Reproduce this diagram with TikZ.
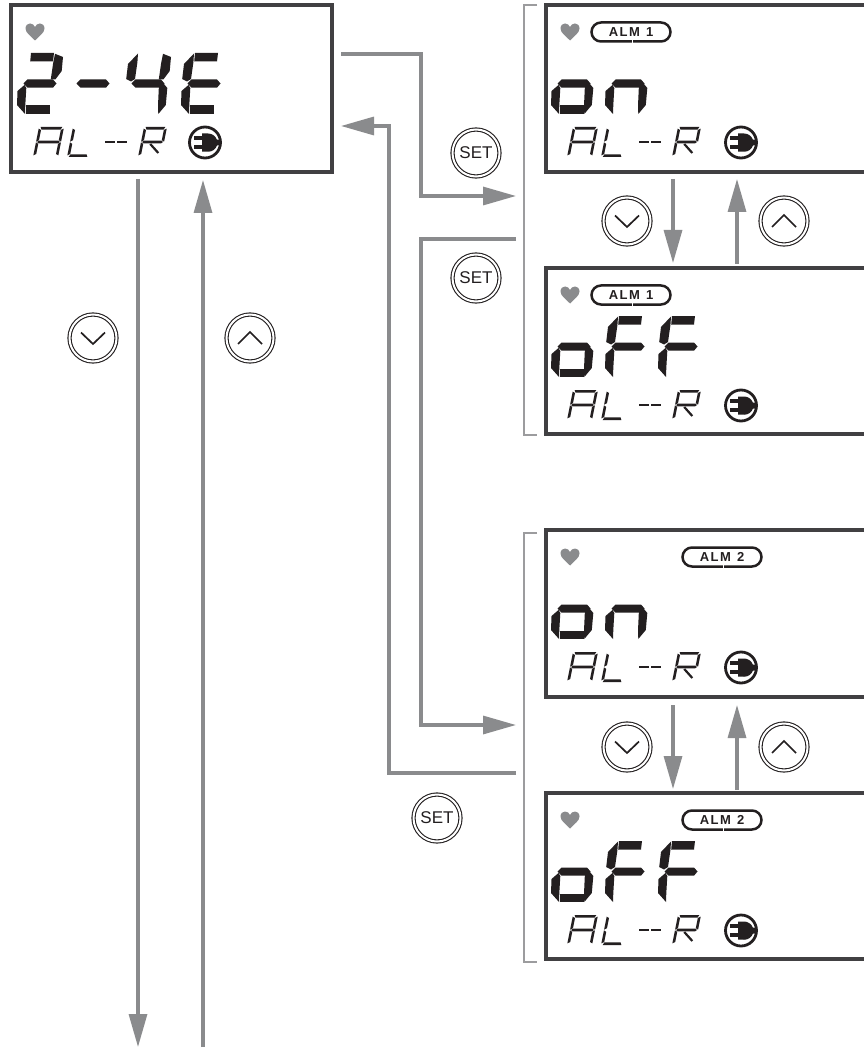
\documentclass[tikz,border=0pt]{standalone}
\usepackage{fontspec}
\setmainfont{Liberation Sans}
\newfontfamily\pillfont[LetterSpace=12]{Liberation Sans}
\usetikzlibrary{arrows.meta}
\definecolor{conngray}{HTML}{8A8B8D}
\definecolor{frameink}{HTML}{414042}
\definecolor{ink}{HTML}{231F20}
\tikzset{
  connline/.style={draw=conngray,line width=3.2pt},
  connarrow/.style={connline,-{Triangle[length=33pt,width=18pt,fill=conngray]}},
  framebox/.style={draw=frameink,line width=3.2pt,inner sep=0pt},
  framepath/.style={draw=frameink,line width=3.2pt,line join=miter},
  bracketline/.style={draw=conngray!85!white,line width=2.4pt},
  btn/.style={circle,draw=ink,line width=1.1pt,double=white,double distance=2pt,minimum size=47pt,inner sep=0pt,text=ink,font=\fontsize{17}{18}\selectfont},
  chev/.style={draw=ink,line width=1.7pt,line join=miter},
  pill/.style={draw=ink,line width=2.5pt,rounded corners=9.5pt,minimum width=79pt,minimum height=19pt,inner sep=0pt,text=ink,font=\pillfont\bfseries\fontsize{13}{14}\selectfont},
  segfill/.style={fill=ink,draw=none},
}
% large LCD segments: local pixels, origin at the glyph's top left, height 61
\newcommand{\bga}{\fill[segfill] (14,0)--(37,0)--(36,8.5)--(13.2,8.5)--cycle;}
\newcommand{\bgb}{\fill[segfill] (38,.8)--(46,4)--(44.7,18)--(38.5,26.3)--(33.8,26.3)--(36.2,9.8)--cycle;}
\newcommand{\bgc}{\fill[segfill] (36.3,27.8)--(42.3,35)--(40.8,52)--(33.3,61)--(33,52.5)--(33.8,35)--cycle;}
\newcommand{\bgd}{\fill[segfill] (8.8,52.5)--(32.5,52.5)--(32.5,61)--(8.8,61)--cycle;}
\newcommand{\bge}{\fill[segfill] (7.5,32)--(.5,38)--(0,52)--(8,61)--(8.3,52)--(9.3,35)--cycle;}
\newcommand{\bgf}{\fill[segfill] (13,.5)--(3,11)--(1.2,26)--(6,28.5)--(10,26)--(12.4,9.2)--cycle;}
\newcommand{\bgg}{\fill[segfill] (6.5,30.5)--(10.5,26.5)--(36,26.5)--(39.5,30.5)--(36,34.7)--(10.5,34.7)--cycle;}
\newcommand{\bigglyph}[3]{%
  \begin{scope}[shift={(#1,#2)}]
    \foreach \q in {#3}{\csname bg\q\endcsname}
  \end{scope}}
% small slanted seven segment glyphs
\newcommand{\sga}{\fill[segfill] (.5*\sT+\sG,\sH)--(\sW-.5*\sT-\sG,\sH)--(\sW-\sT-\sG,\sH-\sT)--(\sT+\sG,\sH-\sT)--cycle;}
\newcommand{\sgd}{\fill[segfill] (.5*\sT+\sG,0)--(\sW-.5*\sT-\sG,0)--(\sW-\sT-\sG,\sT)--(\sT+\sG,\sT)--cycle;}
\newcommand{\sgg}{\fill[segfill] (.4*\sT,\sM)--(\sT,\sM+.5*\sT)--(\sW-\sT,\sM+.5*\sT)--(\sW-.4*\sT,\sM)--(\sW-\sT,\sM-.5*\sT)--(\sT,\sM-.5*\sT)--cycle;}
\newcommand{\sgb}{\fill[segfill] (\sW,\sH-.5*\sT-\sG)--(\sW,\sM+\sG)--(\sW-\sT,\sM+.5*\sT+1.5*\sG)--(\sW-\sT,\sH-\sT-\sG)--cycle;}
\newcommand{\sgf}{\fill[segfill] (0,\sH-.5*\sT-\sG)--(0,\sM+\sG)--(\sT,\sM+.5*\sT+1.5*\sG)--(\sT,\sH-\sT-\sG)--cycle;}
\newcommand{\sgc}{\fill[segfill] (\sW,.5*\sT+\sG)--(\sW,\sM-\sG)--(\sW-\sT,\sM-.5*\sT-1.5*\sG)--(\sW-\sT,\sT+\sG)--cycle;}
\newcommand{\sge}{\fill[segfill] (0,.5*\sT+\sG)--(0,\sM-\sG)--(\sT,\sM-.5*\sT-1.5*\sG)--(\sT,\sT+\sG)--cycle;}
\newcommand{\sgr}{\draw[ink,line width=2.2pt] (.42*\sW,\sM-2)--(\sW-3.5,4);}
\newcommand{\sevenseg}[7]{%
  \begin{scope}[shift={(#1,#2)},x=1pt,y=1pt,xslant={#5/#4}]
    \def\sW{#3}\def\sH{#4}\def\sT{#6}\pgfmathsetmacro{\sM}{#4/2}\def\sG{.35}
    \foreach \q in {#7}{\csname sg\q\endcsname}
  \end{scope}}
% row  AL--R  and plug: x offset, y of top of text, plug x offset
\newcommand{\smallrow}[3]{%
  \begin{scope}[shift={(#1,#2)}]
    \sevenseg{0}{30}{25}{30}{6}{2.6}{a,b,c,e,f,g}
    \sevenseg{34}{30}{22}{30}{6}{2.6}{d,e,f}
    \fill[ink] (72,13.8) rectangle (82,16.4);
    \fill[ink] (84,13.8) rectangle (94,16.4);
    \sevenseg{105}{30}{23}{30}{6}{2.6}{a,b,e,f,g,r}
    \begin{scope}[shift={(#3,15.5)}]
      \draw[ink,line width=2.8pt] (0,0) circle (15.5);
      \fill[ink] (-3,-9) -- (3,-9) arc (-90:-20:9.5) -- (15,-3) -- (15,3) -- (12,3) arc (20:90:9.5) -- (-3,9) -- cycle;
      \fill[ink] (-11.5,-6.2) rectangle (-3,-2.4);
      \fill[ink] (-11.5,2.4) rectangle (-3,6.2);
    \end{scope}
  \end{scope}}
\newcommand{\heartat}[2]{%
  \fill[conngray,shift={(#1,#2)}] (0,8.5) .. controls (-4,4) and (-9.5,1) .. (-9.5,-3.5)
    .. controls (-9.5,-7) and (-7,-8.5) .. (-5,-8.5) .. controls (-2.5,-8.5) and (-1,-7) .. (0,-5)
    .. controls (1,-7) and (2.5,-8.5) .. (5,-8.5) .. controls (7,-8.5) and (9.5,-7) .. (9.5,-3.5)
    .. controls (9.5,1) and (4,4) .. (0,8.5) -- cycle;}
\newcommand{\pillat}[4]{% name, x, y, digit
  \node[pill] (#1) at (#2,#3) {ALM\hspace{6pt}#4};
  \draw[white,line width=.7pt] (#2+1,#3+7.5) -- (#2+1,#3+11);}
\newcommand{\downchev}[1]{\draw[chev] ([shift={(-12,-5.5)}]#1.center) -- ([shift={(0,6)}]#1.center) -- ([shift={(12,-5.5)}]#1.center);}
\newcommand{\upchev}[1]{\draw[chev] ([shift={(-12,6)}]#1.center) -- ([shift={(0,-6)}]#1.center) -- ([shift={(12,6)}]#1.center);}
\begin{document}
\begin{tikzpicture}[x=1pt,y=-1pt]
\useasboundingbox (0,0) rectangle (864,1048);
\fill[white] (0,0) rectangle (864,1048);

% main display
\node[framebox,minimum width=321pt,minimum height=167pt] (main) at (171.5,88.5) {};
\heartat{35}{32}
\bigglyph{17}{53}{a,b,g,e,d}
\bigglyph{70}{53}{g}
\bigglyph{125}{53}{f,g,b,c}
\bigglyph{181}{53}{a,f,g,e,d}
\smallrow{33}{127}{172}

% right panels (run off the right edge)
\coordinate (p1a) at (864,5);   \coordinate (p1b) at (546,5);   \coordinate (p1c) at (546,172); \coordinate (p1d) at (864,172);
\coordinate (p2a) at (864,268); \coordinate (p2b) at (546,268); \coordinate (p2c) at (546,434); \coordinate (p2d) at (864,434);
\coordinate (p3a) at (864,530); \coordinate (p3b) at (546,530); \coordinate (p3c) at (546,697); \coordinate (p3d) at (864,697);
\coordinate (p4a) at (864,793); \coordinate (p4b) at (546,793); \coordinate (p4c) at (546,959); \coordinate (p4d) at (864,959);
\draw[framepath] (p1a)--(p1b)--(p1c)--(p1d);
\draw[framepath] (p2a)--(p2b)--(p2c)--(p2d);
\draw[framepath] (p3a)--(p3b)--(p3c)--(p3d);
\draw[framepath] (p4a)--(p4b)--(p4c)--(p4d);

% panel 1: on / ALM 1
\heartat{570}{32}
\pillat{alm1a}{631}{32}{1}
\bigglyph{551}{53}{c,d,e,g}
\bigglyph{605}{53}{c,e,g}
\smallrow{567}{127}{174}
% panel 2: off / ALM 1
\heartat{570}{295}
\pillat{alm1b}{631}{295}{1}
\bigglyph{551}{316}{c,d,e,g}
\bigglyph{605}{316}{a,e,f,g}
\bigglyph{658}{316}{a,e,f,g}
\smallrow{567}{390}{174}
% panel 3: on / ALM 2
\heartat{570}{557}
\pillat{alm2a}{722}{557}{2}
\bigglyph{551}{578}{c,d,e,g}
\bigglyph{605}{578}{c,e,g}
\smallrow{567}{652}{174}
% panel 4: off / ALM 2
\heartat{570}{820}
\pillat{alm2b}{722}{820}{2}
\bigglyph{551}{841}{c,d,e,g}
\bigglyph{605}{841}{a,e,f,g}
\bigglyph{658}{841}{a,e,f,g}
\smallrow{567}{915}{174}

% brackets
\coordinate (b1a) at (537,5);   \coordinate (b1b) at (524,5);   \coordinate (b1c) at (524,435); \coordinate (b1d) at (537,435);
\coordinate (b2a) at (537,533); \coordinate (b2b) at (524,533); \coordinate (b2c) at (524,962); \coordinate (b2d) at (537,962);
\draw[bracketline] (b1a)--(b1b)--(b1c)--(b1d);
\draw[bracketline] (b2a)--(b2b)--(b2c)--(b2d);

% buttons
\node[btn] (set1) at (476,153) {SET};
\node[btn] (set2) at (476,278) {SET};
\node[btn] (set3) at (437,818) {SET};
\node[btn] (mdn) at (93,338) {}; \downchev{mdn}
\node[btn] (mup) at (250,338) {}; \upchev{mup}
\node[btn] (adn) at (627,221) {}; \downchev{adn}
\node[btn] (aup) at (784,221) {}; \upchev{aup}
\node[btn] (bdn) at (627,747) {}; \downchev{bdn}
\node[btn] (bup) at (784,747) {}; \upchev{bup}

% connectors
\coordinate (c1s) at (341,54);  \coordinate (c1j) at (421,54);  \coordinate (c1k) at (421,196); \coordinate (c1e) at (516,196);
\coordinate (c2s) at (516,773); \coordinate (c2j) at (389,773); \coordinate (c2k) at (389,126); \coordinate (c2e) at (341,126);
\coordinate (c3s) at (516,239); \coordinate (c3j) at (421,239); \coordinate (c3k) at (421,725); \coordinate (c3e) at (516,725);
\draw[connarrow] (c1s)--(c1j)--(c1k)--(c1e);
\draw[connarrow] (c2s)--(c2j)--(c2k)--(c2e);
\draw[connarrow] (c3s)--(c3j)--(c3k)--(c3e);
\coordinate (m1s) at (138,179);  \coordinate (m1e) at (138,1047);
\coordinate (m2s) at (203,1047); \coordinate (m2e) at (203,180);
\draw[connarrow] (m1s)--(m1e);
\draw[connarrow] (m2s)--(m2e);
\coordinate (a1s) at (673,179);  \coordinate (a1e) at (673,263);
\coordinate (a2s) at (737,264);  \coordinate (a2e) at (737,179);
\draw[connarrow] (a1s)--(a1e);
\draw[connarrow] (a2s)--(a2e);
\coordinate (d1s) at (673,705);  \coordinate (d1e) at (673,789);
\coordinate (d2s) at (737,790);  \coordinate (d2e) at (737,705);
\draw[connarrow] (d1s)--(d1e);
\draw[connarrow] (d2s)--(d2e);
\end{tikzpicture}
\end{document}
